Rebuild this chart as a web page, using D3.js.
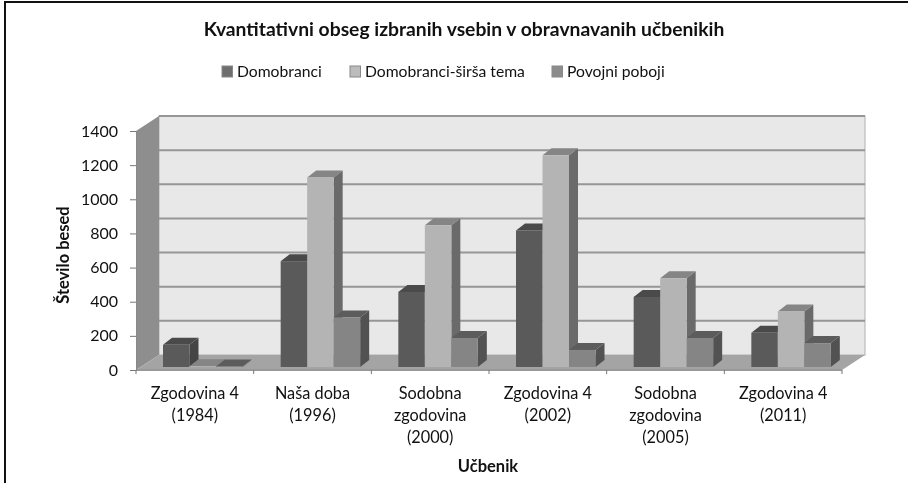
<!DOCTYPE html>
<html>
<head>
<meta charset="utf-8">
<script src="https://cdn.jsdelivr.net/npm/d3@7"></script>
<style>
html, body { margin: 0; padding: 0; background: #fff; }
svg { display: block; filter: blur(0.4px); }
text { font-family: Lato, "Open Sans", sans-serif; fill: #111; }
</style>
</head>
<body>
<svg id="chart" width="908" height="483"></svg>
<script>
const categories = [["Zgodovina 4", "(1984)"], ["Naša doba", "(1996)"], ["Sodobna", "zgodovina", "(2000)"],
    ["Zgodovina 4", "(2002)"], ["Sodobna", "zgodovina", "(2005)"], ["Zgodovina 4", "(2011)"]]
const seriesNames = ["Domobranci", "Domobranci-širša tema", "Povojni poboji"]
const domobranci = [130, 620, 440, 800, 410, 200]
const sirsaTema = [5, 1110, 830, 1240, 520, 325]
const povojni = [3, 290, 170, 100, 170, 140]
const yTicks = [0, 200, 400, 600, 800, 1000, 1200, 1400]

const series = [domobranci, sirsaTema, povojni]
const colors = [
    {front: "#5a5a5a", top: "#4a4a4a", side: "#454545", key: "#6e6e70"},
    {front: "#b4b4b4", top: "#858585", side: "#6a6a6a", key: "#bcbcbe"},
    {front: "#858585", top: "#5c5c5c", side: "#525252", key: "#8c8c8e"}
]

const svg = d3.select("#chart")
const width = 908, height = 483

// okvir
svg.append("line").attr("x1", 5).attr("x2", 5).attr("y1", 2).attr("y2", height)
    .attr("stroke", "#111").attr("stroke-width", 2)
svg.append("line").attr("x1", 4).attr("x2", width).attr("y1", 2).attr("y2", 2)
    .attr("stroke", "#111").attr("stroke-width", 2)

const plotLeft = 136, plotRight = 842, plotTop = 131, plotBottom = 370
const depthX = 23, depthY = -15   // globina 3d stene
const barDx = 9, barDy = -7       // globina stolpca

const x = d3.scaleBand().domain(d3.range(categories.length)).range([plotLeft, plotRight])
const x1 = d3.scaleBand().domain(d3.range(3)).range([27, 106.5])
const y = d3.scaleLinear().domain([0, 1400]).range([plotBottom, plotTop])

// stena zadaj
const wall = svg.append("g")
wall.append("rect").attr("x", plotLeft + depthX).attr("y", plotTop + depthY)
    .attr("width", plotRight - plotLeft).attr("height", plotBottom - plotTop)
    .attr("fill", "#e8e8e8").attr("stroke", "#b0b0b0")
// leva stena
wall.append("path")
    .attr("d", d3.line()([[plotLeft, plotTop], [plotLeft + depthX, plotTop + depthY], [plotLeft + depthX, plotBottom + depthY], [plotLeft, plotBottom]]))
    .attr("fill", "#8e8e8e")
// tla
wall.append("path")
    .attr("d", d3.line()([[plotLeft, plotBottom], [plotLeft + depthX, plotBottom + depthY], [plotRight + depthX, plotBottom + depthY], [plotRight, plotBottom]]))
    .attr("fill", "#a4a4a4")

// mreža
wall.selectAll("line.grid").data(yTicks.slice(1))
    .join("line")
    .attr("class", "grid")
    .attr("x1", plotLeft + depthX).attr("x2", plotRight + depthX)
    .attr("y1", d => y(d) + depthY).attr("y2", d => y(d) + depthY)
    .attr("stroke", "#969696").attr("stroke-width", 2)
wall.append("line").attr("x1", plotLeft).attr("x2", plotRight).attr("y1", plotBottom).attr("y2", plotBottom)
    .attr("stroke", "#999").attr("stroke-width", 2)

// stolpci
const barY = v => y(v) - 3
const groups = svg.append("g").selectAll("g").data(categories).join("g")
    .attr("transform", (d, i) => `translate(${x(i)},0)`)

groups.each(function (cat, i) {
    const g = d3.select(this)
    series.forEach((values, s) => {
        const bx = x1(s), w = x1.bandwidth(), t = barY(values[i]), b = barY(0), c = colors[s]
        g.append("path")
            .attr("d", d3.line()([[bx + w, t], [bx + w + barDx, t + barDy], [bx + w + barDx, b + barDy], [bx + w, b]]))
            .attr("fill", c.side)
        g.append("path")
            .attr("d", d3.line()([[bx, t], [bx + barDx, t + barDy], [bx + w + barDx, t + barDy], [bx + w, t]]))
            .attr("fill", c.top)
        g.append("rect")
            .attr("x", bx).attr("y", t).attr("width", w).attr("height", b - t)
            .attr("fill", c.front)
    })
})

// os y
const yAxis = svg.append("g").attr("transform", `translate(${plotLeft},0)`)
    .call(d3.axisLeft(y).tickValues(yTicks).tickSize(6).tickPadding(12).tickFormat(d3.format("d")))
yAxis.select(".domain").attr("stroke", "#888")
yAxis.selectAll("line").attr("stroke", "#777")
yAxis.selectAll("text").attr("font-size", 16).style("font-family", "Lato")

// os x
const xAxis = d3.scaleLinear().domain([0, categories.length]).range([plotLeft, plotRight])
svg.append("g").selectAll("line").data(d3.range(categories.length + 1)).join("line")
    .attr("x1", d => xAxis(d)).attr("x2", d => xAxis(d))
    .attr("y1", plotBottom).attr("y2", plotBottom + 4).attr("stroke", "#777")

svg.append("g").selectAll("text").data(categories).join("text")
    .attr("text-anchor", "middle").attr("font-size", 16.3)
    .attr("transform", (d, i) => `translate(${x(i) + x.bandwidth() / 2},0)`)
    .selectAll("tspan").data(d => d).join("tspan")
    .attr("x", 0).attr("y", (d, i) => 399 + i * 22)
    .text(d => d)

// naslovi
svg.append("text").attr("x", 464).attr("y", 36).attr("text-anchor", "middle")
    .attr("font-size", 19.3).attr("font-weight", 700)
    .text("Kvantitativni obseg izbranih vsebin v obravnavanih učbenikih")
svg.append("text").attr("x", 488).attr("y", 472).attr("text-anchor", "middle")
    .attr("font-size", 16.5).attr("font-weight", 700).text("Učbenik")
svg.append("text").attr("transform", "translate(69,255) rotate(-90)").attr("text-anchor", "middle")
    .attr("font-size", 16.5).attr("font-weight", 700).text("Število besed")

// legenda
const legendX = [222, 350, 552]
const legend = svg.append("g").selectAll("g").data(seriesNames).join("g")
    .attr("transform", (d, i) => `translate(${legendX[i]},66)`)
legend.append("rect").attr("width", 10.5).attr("height", 11)
    .attr("fill", (d, i) => colors[i].key).attr("stroke", "#888")
legend.append("text").attr("x", 15).attr("y", 11).attr("font-size", 15.7).text(d => d)
</script>
</body>
</html>
